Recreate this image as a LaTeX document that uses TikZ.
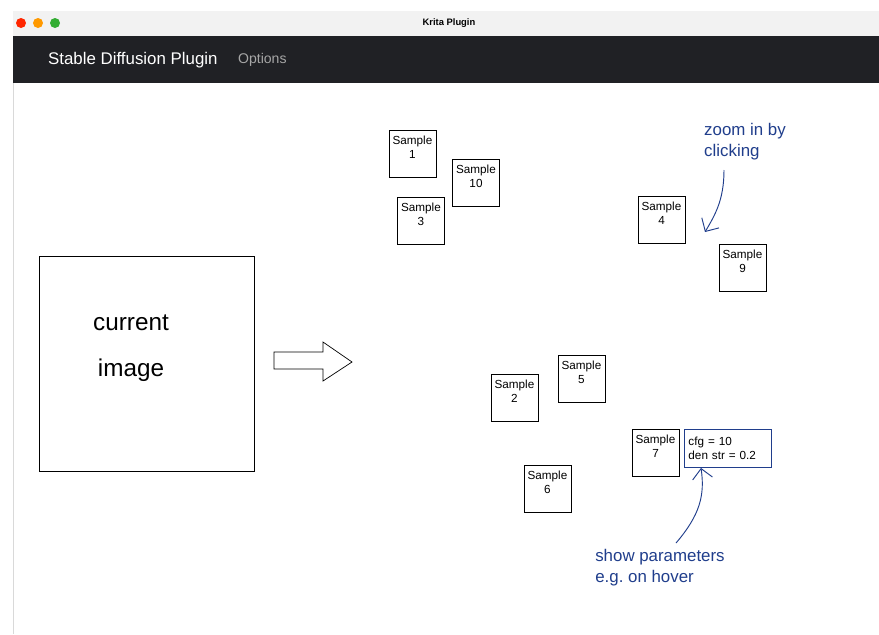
\documentclass[tikz,border=0pt]{standalone}
\usepackage{fontspec}
\setmainfont{Liberation Sans}
\usetikzlibrary{arrows.meta}
\usetikzlibrary{calc}
\definecolor{inkblue}{RGB}{32,62,140}
\definecolor{barbg}{RGB}{32,33,37}
\definecolor{titlebg}{RGB}{242,242,242}
\frenchspacing
\begin{document}
\begin{tikzpicture}[x=0.3mm,y=-0.3mm,
    sample/.style={draw,line width=0.8pt,minimum width=14.1mm,minimum height=14.1mm,
      inner sep=0pt,align=center,font=\normalsize,text height=1.6ex},
    note/.style={text=inkblue,align=left,font=\Large}]
      \useasboundingbox (0,0) rectangle (879,634);
      \fill[white] (0,0) rectangle (879,634);

      % window
      \fill[titlebg] (13,11) rectangle (879,36);
      \fill[barbg] (13,36) rectangle (879,83);
      \draw[gray!30,line width=0.3pt] (13,83) -- (13,634);
      \fill[red!70!orange] (21,23) circle (5);
      \fill[orange!80!yellow] (38,23) circle (5);
      \fill[green!60!black!80] (55,23) circle (5);
      \node[font=\bfseries\footnotesize] (title) at (449,23) {Krita Plugin};
      \node[white,anchor=west,font=\Large] (app) at (44,60) {Stable Diffusion Plugin};
      \node[gray!70,anchor=west,font=\large] (opt) at (234,60) {Options};

      % current image
      \node[draw,line width=0.8pt,minimum width=64.5mm,minimum height=64.5mm] (cur) at (146.5,363.5) {};
      \node[font=\huge,align=center] (curtxt) at (131,348) {current\\[5mm]image};

      % block arrow
      \draw[line width=0.6pt] (274,352) -- (323,352) -- (323,342) -- (352,362)
        -- (323,381) -- (323,369) -- (274,369) -- cycle;

      % samples
      \node[sample] (s1) at (412.5,153.5) {Sample\\1};
      \node[sample] (s10) at (476,183) {Sample\\10};
      \node[sample] (s3) at (421,220.5) {Sample\\3};
      \node[sample] (s4) at (661.5,220) {Sample\\4};
      \node[sample] (s9) at (742.5,268) {Sample\\9};
      \node[sample] (s5) at (581.5,379) {Sample\\5};
      \node[sample] (s2) at (514.5,398) {Sample\\2};
      \node[sample] (s6) at (547.5,489) {Sample\\6};
      \node[sample] (s7) at (655.5,452.5) {Sample\\7};
      \node[draw=inkblue,line width=0.8pt,anchor=north west,text width=23.6mm,
        minimum height=11.4mm,align=left,font=\normalsize,inner sep=1.2mm] (par) at (684,429)
        {cfg = 10\\den str = 0.2};

      % notes
      \node[note] (zoom) at (745,142) {zoom in by\\clicking};
      \coordinate (zoomend) at (705,232);
      \draw[inkblue,line width=0.8pt,-{Straight Barb[length=3mm]}] (724,170) .. controls (724,200) and (715,215) .. (zoomend);
      \node[note] (hover) at (660,568) {show parameters\\e.g. on hover};
      \draw[inkblue,line width=0.8pt,-{Straight Barb[length=3mm]}] (676,543) .. controls (700,515) and (705,495) .. (par.south -| 701,0);
\end{tikzpicture}
\end{document}
